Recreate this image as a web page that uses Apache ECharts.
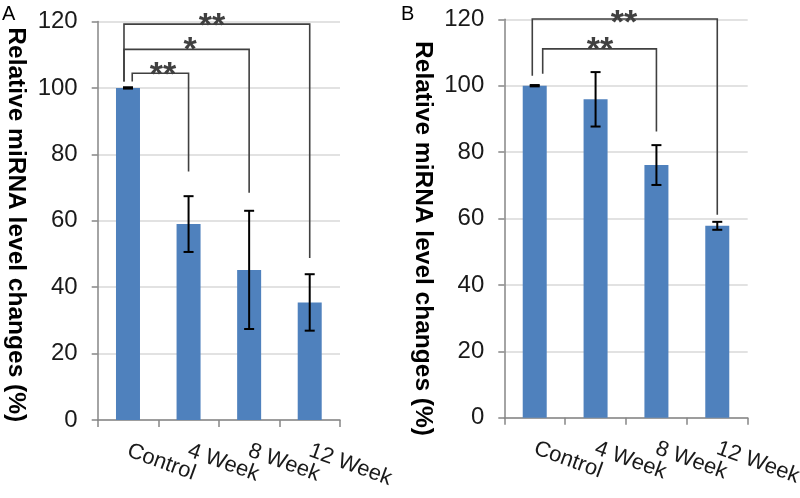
<!DOCTYPE html>
<html><head><meta charset="utf-8">
<script src="https://cdn.jsdelivr.net/npm/echarts@6/dist/echarts.min.js"></script>
<style>html,body{margin:0;padding:0;background:#fff}#c{width:800px;height:498px}</style>
</head><body><div id="c"></div>
<script>
const categories = ['Control', '4 Week', '8 Week', '12 Week'];
const yTickMin = 0, yTickMax = 120, yTickStep = 20;
const valuesA = [100, 59.0, 45.2, 35.4];
const errorsA = [0.2, 8.4, 17.8, 8.5];
const valuesB = [100, 95.9, 76.1, 57.8];
const errorsB = [0.2, 8.2, 6.0, 1.2];
// brackets: [xLeft, yLeftBottom, yTop, xRight, yRightBottom] (x in category index units)
const bracketsA = [[0.07, 101.9, 104.4, 1, 74.8], [-0.066, 101.9, 111.6, 2, 68.4], [-0.066, 101.9, 119.2, 3, 48.8]];
const starsA = [['**', 0.578, 106.0], ['*', 1.024, 113.4], ['**', 1.387, 120.7]];
const bracketsB = [[-0.04, 103.0, 120.1, 3, 61.1], [0.131, 103.6, 111.1, 2, 86.2]];
const starsB = [['**', 1.467, 121.1], ['**', 1.073, 112.8]];
const yTitle = 'Relative miRNA level changes (%)';
const panelLabels = ['A', 'B'];

const FONT = 'Liberation Sans, Arial, sans-serif';
const chart = echarts.init(document.getElementById('c'), null, {renderer: 'canvas'});

function errRender(params, api) {
  const i = api.value(0), v = api.value(1), e = api.value(2);
  const hi = api.coord([i, v + e]), lo = api.coord([i, v - e]);
  const hw = 5, st = {stroke: '#000', lineWidth: 2};
  return {type: 'group', children: [
    {type: 'line', shape: {x1: hi[0], y1: hi[1], x2: lo[0], y2: lo[1]}, style: st},
    {type: 'line', shape: {x1: hi[0] - hw, y1: hi[1], x2: hi[0] + hw, y2: hi[1]}, style: st},
    {type: 'line', shape: {x1: lo[0] - hw, y1: lo[1], x2: lo[0] + hw, y2: lo[1]}, style: st}
  ]};
}
function bracketRender(params, api) {
  const p1 = api.coord([api.value(0), api.value(1)]);
  const p2 = api.coord([api.value(0), api.value(2)]);
  const p3 = api.coord([api.value(3), api.value(2)]);
  const p4 = api.coord([api.value(3), api.value(4)]);
  return {type: 'polyline', shape: {points: [p1, p2, p3, p4]},
    style: {stroke: '#404040', lineWidth: 1.6, fill: 'none'}};
}
const STAR_SIZE = 34;
function starRender(params, api) {
  const p = api.coord([api.value(1), api.value(2)]);
  return {type: 'text', x: p[0], y: p[1] + 0.22 * STAR_SIZE,
    style: {text: api.value(0), fill: '#404040', font: 'bold ' + STAR_SIZE + 'px ' + FONT,
      align: 'center', verticalAlign: 'middle'}};
}

function xCat(grid) {
  return {type: 'category', gridIndex: grid, data: categories, boundaryGap: true,
    axisLine: {onZero: false, lineStyle: {color: '#868686', width: 1.5}},
    axisTick: {show: true, length: 7, inside: false, lineStyle: {color: '#868686', width: 1.5}},
    axisLabel: {rotate: -20, margin: 30, fontSize: 22, color: '#1a1a1a', fontFamily: FONT, interval: 0},
    splitLine: {show: false}};
}
function xVal(grid) {
  return {type: 'value', gridIndex: grid, min: -0.5, max: 3.5, show: false,
    axisLine: {show: false, onZero: false}, axisTick: {show: false}, axisLabel: {show: false}, splitLine: {show: false}};
}
function yAx(grid, padLeft) {
  return {type: 'value', gridIndex: grid, min: yTickMin, max: yTickMax, interval: yTickStep,
    name: yTitle, nameLocation: 'middle', nameRotate: -90, nameGap: 69,
    nameTextStyle: {fontSize: 24.5, fontWeight: 'bold', color: '#000', fontFamily: FONT, padding: [0, 0, 0, padLeft]},
    axisLine: {show: true, onZero: false, lineStyle: {color: '#868686', width: 1.5}},
    axisTick: {show: true, length: 6, inside: false, lineStyle: {color: '#868686', width: 1.5}},
    axisLabel: {fontSize: 24, color: '#1a1a1a', fontFamily: FONT, margin: 20},
    splitLine: {show: true, lineStyle: {color: '#d9d9d9', width: 1.5}}};
}

const option = {
  animation: false,
  backgroundColor: '#fff',
  title: [
    {text: panelLabels[0], left: -3, top: -1, textStyle: {fontSize: 20, fontWeight: 'normal', color: '#000', fontFamily: FONT}},
    {text: panelLabels[1], left: 396, top: -1, textStyle: {fontSize: 20, fontWeight: 'normal', color: '#000', fontFamily: FONT}}
  ],
  grid: [
    {left: 97.7, right: 460, top: 21.5, bottom: 78, containLabel: false, outerBoundsMode: 'none'},
    {left: 504.3, right: 52.3, top: 19.3, bottom: 80.3, containLabel: false, outerBoundsMode: 'none'}
  ],
  xAxis: [xCat(0), xVal(0), xCat(1), xVal(1)],
  yAxis: [yAx(0, 8), yAx(1, 40)],
  series: [
    {type: 'bar', xAxisIndex: 0, yAxisIndex: 0, data: valuesA, barWidth: 24, itemStyle: {color: '#4f81bd'}, silent: true},
    {type: 'custom', xAxisIndex: 0, yAxisIndex: 0, renderItem: errRender, data: valuesA.map((v, i) => [i, v, errorsA[i]]), z: 5},
    {type: 'custom', xAxisIndex: 1, yAxisIndex: 0, renderItem: bracketRender, data: bracketsA, clip: false, z: 6},
    {type: 'custom', xAxisIndex: 1, yAxisIndex: 0, renderItem: starRender, data: starsA, clip: false, z: 7,
      dimensions: ['t', 'x', 'y'], encode: {x: 1, y: 2}},
    {type: 'bar', xAxisIndex: 2, yAxisIndex: 1, data: valuesB, barWidth: 24, itemStyle: {color: '#4f81bd'}, silent: true},
    {type: 'custom', xAxisIndex: 2, yAxisIndex: 1, renderItem: errRender, data: valuesB.map((v, i) => [i, v, errorsB[i]]), z: 5},
    {type: 'custom', xAxisIndex: 3, yAxisIndex: 1, renderItem: bracketRender, data: bracketsB, clip: false, z: 6},
    {type: 'custom', xAxisIndex: 3, yAxisIndex: 1, renderItem: starRender, data: starsB, clip: false, z: 7,
      dimensions: ['t', 'x', 'y'], encode: {x: 1, y: 2}}
  ]
};
chart.setOption(option);
</script></body></html>
